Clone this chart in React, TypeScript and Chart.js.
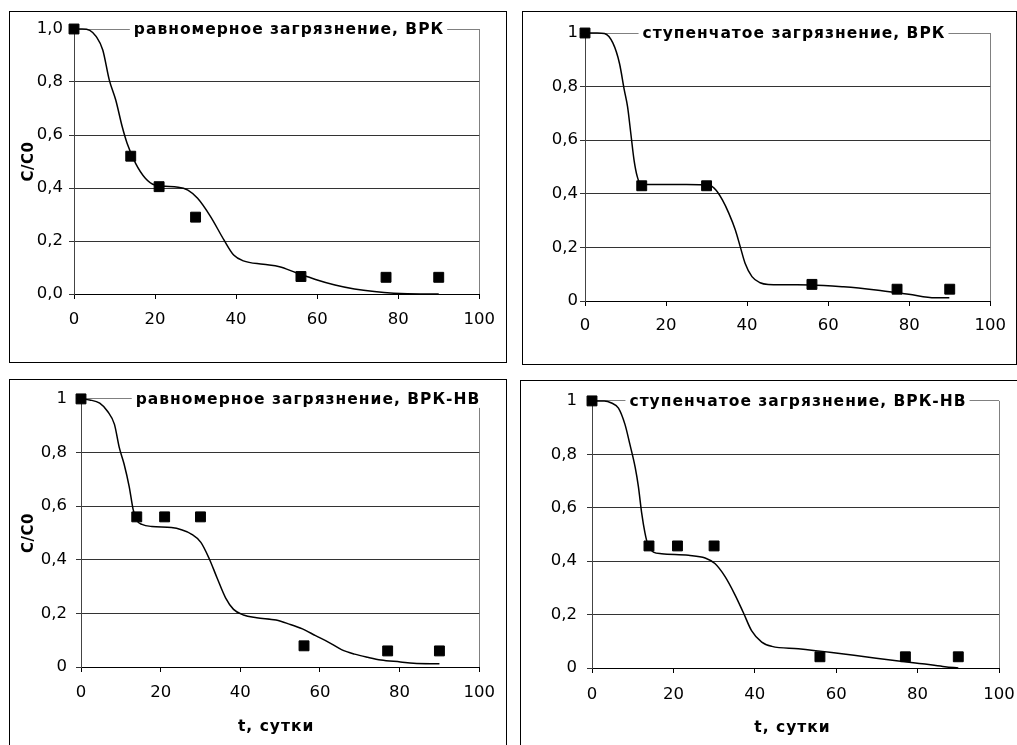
import React, { useEffect, useRef } from 'react';
import { Chart, registerables } from 'chart.js';

Chart.register(...registerables);

// ---------- data ----------
const xTickStep = 20;
const yTickLabelsA = ['0,0', '0,2', '0,4', '0,6', '0,8', '1,0'];
const yTickLabelsB = ['0', '0,2', '0,4', '0,6', '0,8', '1'];
const yAxisTitle = 'C/C0';
const xAxisTitle = 't, сутки';

const p1Title = 'равномерное загрязнение, ВРК';
const p1ObsT = [0, 14, 21, 30, 56, 77, 90];
const p1ObsC = [1.0, 0.52, 0.405, 0.29, 0.066, 0.063, 0.063];
const p1ModelT = [0, 2, 3.9, 5.5, 7.1, 8.7, 10.3, 11.9, 13.1, 15.2, 17.6, 20, 25.7, 28.1, 30.5, 33.7, 37, 39.4, 41.8, 46.7, 50.7, 54.7, 59.6, 64.4, 69.2, 74.1, 78.9, 85.4, 90];
const p1ModelC = [1, 1, 0.995, 0.971, 0.921, 0.808, 0.732, 0.631, 0.569, 0.493, 0.437, 0.411, 0.403, 0.392, 0.361, 0.292, 0.204, 0.147, 0.125, 0.112, 0.103, 0.081, 0.055, 0.034, 0.019, 0.009, 0.003, 0, 0];

const p2Title = 'ступенчатое загрязнение, ВРК';
const p2ObsT = [0, 14, 30, 56, 77, 90];
const p2ObsC = [1.0, 0.43, 0.43, 0.062, 0.044, 0.044];
const p2ModelT = [0, 3, 4.8, 6.9, 8.5, 9.7, 10.5, 11.3, 12.1, 12.9, 13.7, 15, 20, 25, 30.6, 32.3, 33.9, 35.5, 37.1, 38.3, 39.5, 41.2, 43.2, 45.2, 55.7, 63.8, 71.8, 79.9, 86.4, 89.9];
const p2ModelC = [1, 1, 0.998, 0.962, 0.887, 0.787, 0.725, 0.626, 0.526, 0.464, 0.437, 0.435, 0.435, 0.435, 0.433, 0.414, 0.377, 0.327, 0.265, 0.203, 0.141, 0.091, 0.068, 0.062, 0.06, 0.053, 0.041, 0.025, 0.012, 0.012];

const p3Title = 'равномерное загрязнение, ВРК-НВ';
const p3ObsT = [0, 14, 21, 30, 56, 77, 90];
const p3ObsC = [1.0, 0.56, 0.56, 0.56, 0.079, 0.06, 0.06];
const p3ModelT = [0, 2.2, 4.7, 6.7, 8.4, 9.6, 10.8, 12.1, 13.1, 14.1, 15.3, 17.8, 22.7, 25.2, 27.7, 30.1, 32.2, 34.2, 36.3, 38.3, 40.8, 44.1, 49, 52.3, 55.6, 58.9, 62.1, 65.4, 68.7, 72, 75.3, 80.2, 83.5, 90];
const p3ModelC = [1, 0.996, 0.984, 0.953, 0.905, 0.819, 0.758, 0.673, 0.587, 0.545, 0.532, 0.524, 0.52, 0.512, 0.496, 0.465, 0.404, 0.331, 0.258, 0.215, 0.194, 0.184, 0.175, 0.16, 0.142, 0.117, 0.093, 0.065, 0.048, 0.036, 0.026, 0.019, 0.014, 0.012];

const p4Title = 'ступенчатое загрязнение, ВРК-НВ';
const p4ObsT = [0, 14, 21, 30, 56, 77, 90];
const p4ObsC = [1.0, 0.457, 0.457, 0.457, 0.042, 0.042, 0.042];
const p4ModelT = [0, 3, 4.8, 6.5, 8.1, 9.3, 10.6, 11.4, 12.2, 13, 13.8, 15.1, 17.1, 23.7, 27.8, 30.2, 32.7, 35.1, 37.2, 39.2, 41.7, 44.2, 50.7, 58.9, 67.1, 75.3, 81.8, 86.7, 90];
const p4ModelC = [1, 1, 0.992, 0.973, 0.912, 0.838, 0.752, 0.679, 0.581, 0.507, 0.458, 0.434, 0.428, 0.422, 0.412, 0.391, 0.342, 0.275, 0.207, 0.14, 0.097, 0.081, 0.072, 0.058, 0.042, 0.026, 0.015, 0.005, 0];

// ---------- layout ----------
const panels = [
  {
    key: 'p1', left: 9, top: 11, width: 498, height: 352,
    areaLeft: 64, areaTop: 17, padRight: 19, xHeight: 68,
    yPad: 6, xPad: 11, titleCx: 215, yTitle: true, xTitle: false, xTitleDx: 0,
    title: p1Title, yLabels: yTickLabelsA, obsT: p1ObsT, obsC: p1ObsC, modT: p1ModelT, modC: p1ModelC,
  },
  {
    key: 'p2', left: 522, top: 11, width: 495, height: 354,
    areaLeft: 62, areaTop: 21, padRight: 18, xHeight: 63,
    yPad: 2, xPad: 10, titleCx: 209, yTitle: false, xTitle: false, xTitleDx: 0,
    title: p2Title, yLabels: yTickLabelsB, obsT: p2ObsT, obsC: p2ObsC, modT: p2ModelT, modC: p2ModelC,
  },
  {
    key: 'p3', left: 9, top: 379, width: 498, height: 400,
    areaLeft: 71, areaTop: 14, padRight: 19, xHeight: 111,
    yPad: 9, xPad: 11, titleCx: 227, yTitle: true, xTitle: true, xTitleDx: -4,
    title: p3Title, yLabels: yTickLabelsB, obsT: p3ObsT, obsC: p3ObsC, modT: p3ModelT, modC: p3ModelC,
  },
  {
    key: 'p4', left: 520, top: 380, width: 520, height: 400,
    areaLeft: 71, areaTop: 15, padRight: 40, xHeight: 111,
    yPad: 10, xPad: 12, titleCx: 206, yTitle: false, xTitle: true, xTitleDx: -3,
    title: p4Title, yLabels: yTickLabelsB, obsT: p4ObsT, obsC: p4ObsC, modT: p4ModelT, modC: p4ModelC,
  },
];

const FONT = '"DejaVu Sans", "Liberation Sans", Arial, sans-serif';

const textPlugin = {
  id: 'panelText',
  afterDraw(chart: any, _args: any, opts: any) {
    const { ctx, chartArea: a } = chart;
    ctx.save();
    // title on the top border
    ctx.font = `bold 15.5px ${FONT}`;
    (ctx as any).letterSpacing = '1px';
    const w = ctx.measureText(opts.title).width;
    const cx = a.left + opts.titleCx;
    const x0 = cx - w / 2;
    ctx.fillStyle = '#fff';
    ctx.fillRect(x0 - 4, a.top - 9, w + 7, 18);
    ctx.fillStyle = '#000';
    ctx.textBaseline = 'middle';
    ctx.textAlign = 'left';
    ctx.fillText(opts.title, x0, a.top + 1);

    (ctx as any).letterSpacing = '0.5px';
    if (opts.yTitle) {
      ctx.save();
      ctx.font = `bold 15px ${FONT}`;
      ctx.translate(19, (a.top + a.bottom) / 2);
      ctx.rotate(-Math.PI / 2);
      ctx.textAlign = 'center';
      ctx.textBaseline = 'middle';
      ctx.fillText(opts.yText, 0, 0);
      ctx.restore();
    }
    if (opts.xTitle) {
      (ctx as any).letterSpacing = '1px';
      ctx.font = `bold 15.5px ${FONT}`;
      ctx.textAlign = 'center';
      ctx.textBaseline = 'middle';
      ctx.fillText(opts.xText, (a.left + a.right) / 2 + opts.xTitleDx, a.bottom + 60);
    }
    ctx.restore();
  },
};

function Panel({ cfg }: { cfg: any }) {
  const ref = useRef<HTMLCanvasElement | null>(null);
  const cw = cfg.width - 2;
  const ch = cfg.height - 2;

  useEffect(() => {
    if (!ref.current) return;
    const chart = new Chart(ref.current, {
      type: 'scatter',
      data: {
        datasets: [
          {
            data: cfg.obsT.map((t: number, i: number) => ({ x: t, y: cfg.obsC[i] })),
            pointStyle: 'rect',
            pointRadius: 7,
            backgroundColor: '#000',
            borderColor: '#000',
            borderWidth: 1,
            showLine: false,
            clip: false,
          },
          {
            data: cfg.modT.map((t: number, i: number) => ({ x: t, y: cfg.modC[i] })),
            showLine: true,
            pointRadius: 0,
            borderColor: '#000',
            borderWidth: 1.5,
            cubicInterpolationMode: 'monotone',
            fill: false,
            clip: false,
          },
        ],
      } as any,
      options: {
        responsive: false,
        animation: false,
        devicePixelRatio: 1,
        events: [],
        layout: { padding: { top: cfg.areaTop, right: cfg.padRight, left: 0, bottom: 0 } },
        plugins: {
          legend: { display: false },
          tooltip: { enabled: false },
          panelText: {
            title: cfg.title,
            titleCx: cfg.titleCx,
            yTitle: cfg.yTitle,
            xTitle: cfg.xTitle,
            yText: yAxisTitle,
            xText: xAxisTitle,
            xTitleDx: cfg.xTitleDx,
          },
        } as any,
        scales: {
          x: {
            type: 'linear',
            min: 0,
            max: 100,
            ticks: {
              stepSize: xTickStep,
              maxRotation: 0,
              color: '#000',
              padding: cfg.xPad,
              font: { family: FONT, size: 16.5 },
            },
            grid: {
              color: (c: any) => (c.tick && c.tick.value === 100 ? '#808080' : 'rgba(0,0,0,0)'),
              tickColor: '#000',
              tickLength: 5,
              lineWidth: 1,
            },
            border: { color: '#000', width: 1 },
            afterFit: (s: any) => { s.height = cfg.xHeight; },
          },
          y: {
            type: 'linear',
            min: 0,
            max: 1,
            ticks: {
              stepSize: 0.2,
              color: '#000',
              padding: cfg.yPad,
              font: { family: FONT, size: 16.5 },
              callback: (v: any) => cfg.yLabels[Math.round(Number(v) * 5)],
            },
            grid: {
              color: (c: any) => (c.tick && Math.abs(c.tick.value - 1) < 1e-6 ? '#808080' : '#333'),
              tickColor: '#333',
              tickLength: 5,
              lineWidth: 1,
            },
            border: { color: '#444', width: 1 },
            afterFit: (s: any) => { s.width = cfg.areaLeft; },
          },
        },
      } as any,
      plugins: [textPlugin as any],
    });
    return () => chart.destroy();
  }, []);

  return (
    <div
      style={{
        position: 'absolute',
        left: cfg.left,
        top: cfg.top,
        width: cfg.width,
        height: cfg.height,
        border: '1px solid #000',
        boxSizing: 'border-box',
        background: '#fff',
      }}
    >
      <canvas ref={ref} width={cw} height={ch} style={{ display: 'block', width: cw, height: ch }} />
    </div>
  );
}

export default function App() {
  return (
    <div
      style={{
        position: 'fixed',
        left: 0,
        top: 0,
        width: 1017,
        height: 745,
        overflow: 'hidden',
        background: '#fff',
      }}
    >
      {panels.map((p) => (
        <Panel key={p.key} cfg={p} />
      ))}
    </div>
  );
}
